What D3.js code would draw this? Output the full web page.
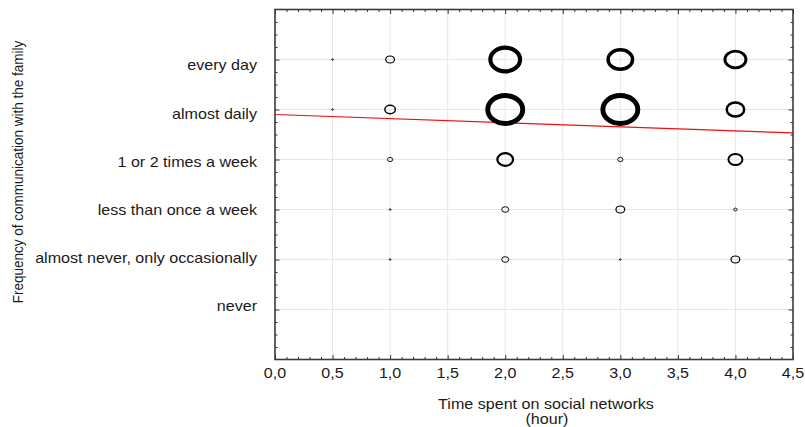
<!DOCTYPE html>
<html>
<head>
<meta charset="utf-8">
<script src="https://cdn.jsdelivr.net/npm/d3@7"></script>
<style>
  html, body { margin: 0; padding: 0; background: #fff; overflow: hidden; }
  svg { display: block; }
  text { font-family: "Liberation Sans", Arial, sans-serif; fill: #1a1a1a; }
</style>
</head>
<body>
<div id="chart"></div>
<script>
// Categories, bottom to top (y value 1..6)
const categories = [
  'never',
  'almost never, only occasionally',
  'less than once a week',
  '1 or 2 times a week',
  'almost daily',
  'every day'
]
const hours = [0.5, 1, 2, 3, 4]

// Bubble counts, one row per category (same order), one column per hour
const counts = [
  [0, 0, 0, 0, 0],
  [0, 1, 4, 1, 5],
  [0, 1, 4, 5, 2],
  [0, 3, 9, 3, 8],
  [1, 6, 20, 20, 10],
  [1, 5, 17, 14, 12]
]

const xTickValues = [0, 0.5, 1, 1.5, 2, 2.5, 3, 3.5, 4, 4.5]
const xTickLabels = ['0,0', '0,5', '1,0', '1,5', '2,0', '2,5', '3,0', '3,5', '4,0', '4,5']

// Linear fit (red line)
const fitIntercept = 4.9
const fitSlope = -0.082

const width = 805
const height = 427
const margin = { top: 9.5, right: 12, bottom: 67.5, left: 275 }
const innerWidth = width - margin.left - margin.right
const innerHeight = height - margin.top - margin.bottom
const stretch = 1.15 // the picture is slightly wider than tall

const svg = d3.select('#chart')
  .append('svg')
  .attr('width', width)
  .attr('height', height)

const g = svg.append('g')
  .attr('transform', `translate(${margin.left}, ${margin.top})`)

const x = d3.scaleLinear().domain([0, 4.5]).range([0, innerWidth])
const y = d3.scaleLinear().domain([0, 7]).range([innerHeight, 0])
const r = d3.scaleLinear().domain([0, 20]).range([0, 17.5])
const labelY = d3.scalePoint().domain(categories).range([y(1) + 2, y(6) + 11])

// Gridlines
g.append('g')
  .selectAll('line')
  .data(xTickValues.slice(1, -1))
  .join('line')
  .attr('x1', d => x(d)).attr('x2', d => x(d))
  .attr('y1', 0).attr('y2', innerHeight)
  .attr('stroke', '#e6e6e6')
g.append('g')
  .selectAll('line')
  .data(d3.range(1, 7))
  .join('line')
  .attr('x1', 0).attr('x2', innerWidth)
  .attr('y1', d => y(d)).attr('y2', d => y(d))
  .attr('stroke', '#e6e6e6')

// Ticks on all four sides, pointing inward
const xMinor = d3.range(0, 46).map(i => i / 10).filter(v => Math.round(v * 10) % 5 !== 0)
const yMinor = d3.range(0, 29).map(i => i / 4).filter(v => v % 1 !== 0)
const yMajor = d3.range(1, 7)

function ticks(axis, values, size, transform) {
  const a = g.append('g')
    .attr('transform', transform)
    .call(axis.tickValues(values).tickSize(-size).tickSizeOuter(0).tickFormat(''))
  a.select('.domain').remove()
  a.selectAll('line').attr('stroke', '#333').attr('stroke-width', 1)
}
ticks(d3.axisBottom(x), xMinor, 2.5, `translate(0, ${innerHeight})`)
ticks(d3.axisBottom(x), xTickValues, 4.5, `translate(0, ${innerHeight})`)
ticks(d3.axisTop(x), xMinor, 2.5, 'translate(0, 0)')
ticks(d3.axisTop(x), xTickValues, 4.5, 'translate(0, 0)')
ticks(d3.axisLeft(y), yMinor, 2.5, 'translate(0, 0)')
ticks(d3.axisLeft(y), yMajor, 4.5, 'translate(0, 0)')
ticks(d3.axisRight(y), yMinor, 2.5, `translate(${innerWidth}, 0)`)
ticks(d3.axisRight(y), yMajor, 4.5, `translate(${innerWidth}, 0)`)

// Frame
g.append('rect')
  .attr('width', innerWidth)
  .attr('height', innerHeight)
  .attr('fill', 'none')
  .attr('stroke', '#3a3a3a')
  .attr('stroke-width', 1.6)

// Fit line
g.append('path')
  .datum([0, 4.5])
  .attr('d', d3.line().x(d => x(d)).y(d => y(fitIntercept + fitSlope * d)))
  .attr('stroke', '#ee1111')
  .attr('stroke-width', 1.2)
  .attr('fill', 'none')

// Bubbles
const bubbles = []
counts.forEach((row, ci) => row.forEach((n, hi) => {
  if (n > 0) bubbles.push({ cat: ci + 1, hour: hours[hi], n })
}))
g.append('g')
  .selectAll('ellipse')
  .data(bubbles)
  .join('ellipse')
  .attr('cx', d => x(d.hour))
  .attr('cy', d => y(d.cat))
  .attr('rx', d => r(d.n))
  .attr('ry', d => r(d.n) * 0.8)
  .attr('fill', 'none')
  .attr('stroke', '#000')
  .attr('stroke-width', d => Math.max(0.9, r(d.n) * 0.28))

// Horizontally stretched text, positioned in absolute page coordinates
const texts = svg.append('g').attr('transform', `scale(${stretch}, 1)`)
function label(txt, tx, ty, anchor, size) {
  texts.append('text')
    .attr('x', tx / stretch)
    .attr('y', ty)
    .attr('text-anchor', anchor)
    .style('font-size', size + 'px')
    .text(txt)
}

// X tick labels
xTickValues.forEach((v, i) =>
  label(xTickLabels[i], margin.left + x(v), margin.top + innerHeight + 18.5, 'middle', 14))

// Y tick labels
categories.forEach(c => label(c, margin.left - 18, margin.top + labelY(c), 'end', 14))

// Axis titles
label('Time spent on social networks', 546, 409, 'middle', 14)
label('(hour)', 547, 424, 'middle', 14)
svg.append('text')
  .attr('transform', `translate(22.5, 172) scale(${stretch}, 1) rotate(-90)`)
  .attr('text-anchor', 'middle')
  .style('font-size', '13.5px')
  .text('Frequency of communication with the family')
</script>
</body>
</html>
